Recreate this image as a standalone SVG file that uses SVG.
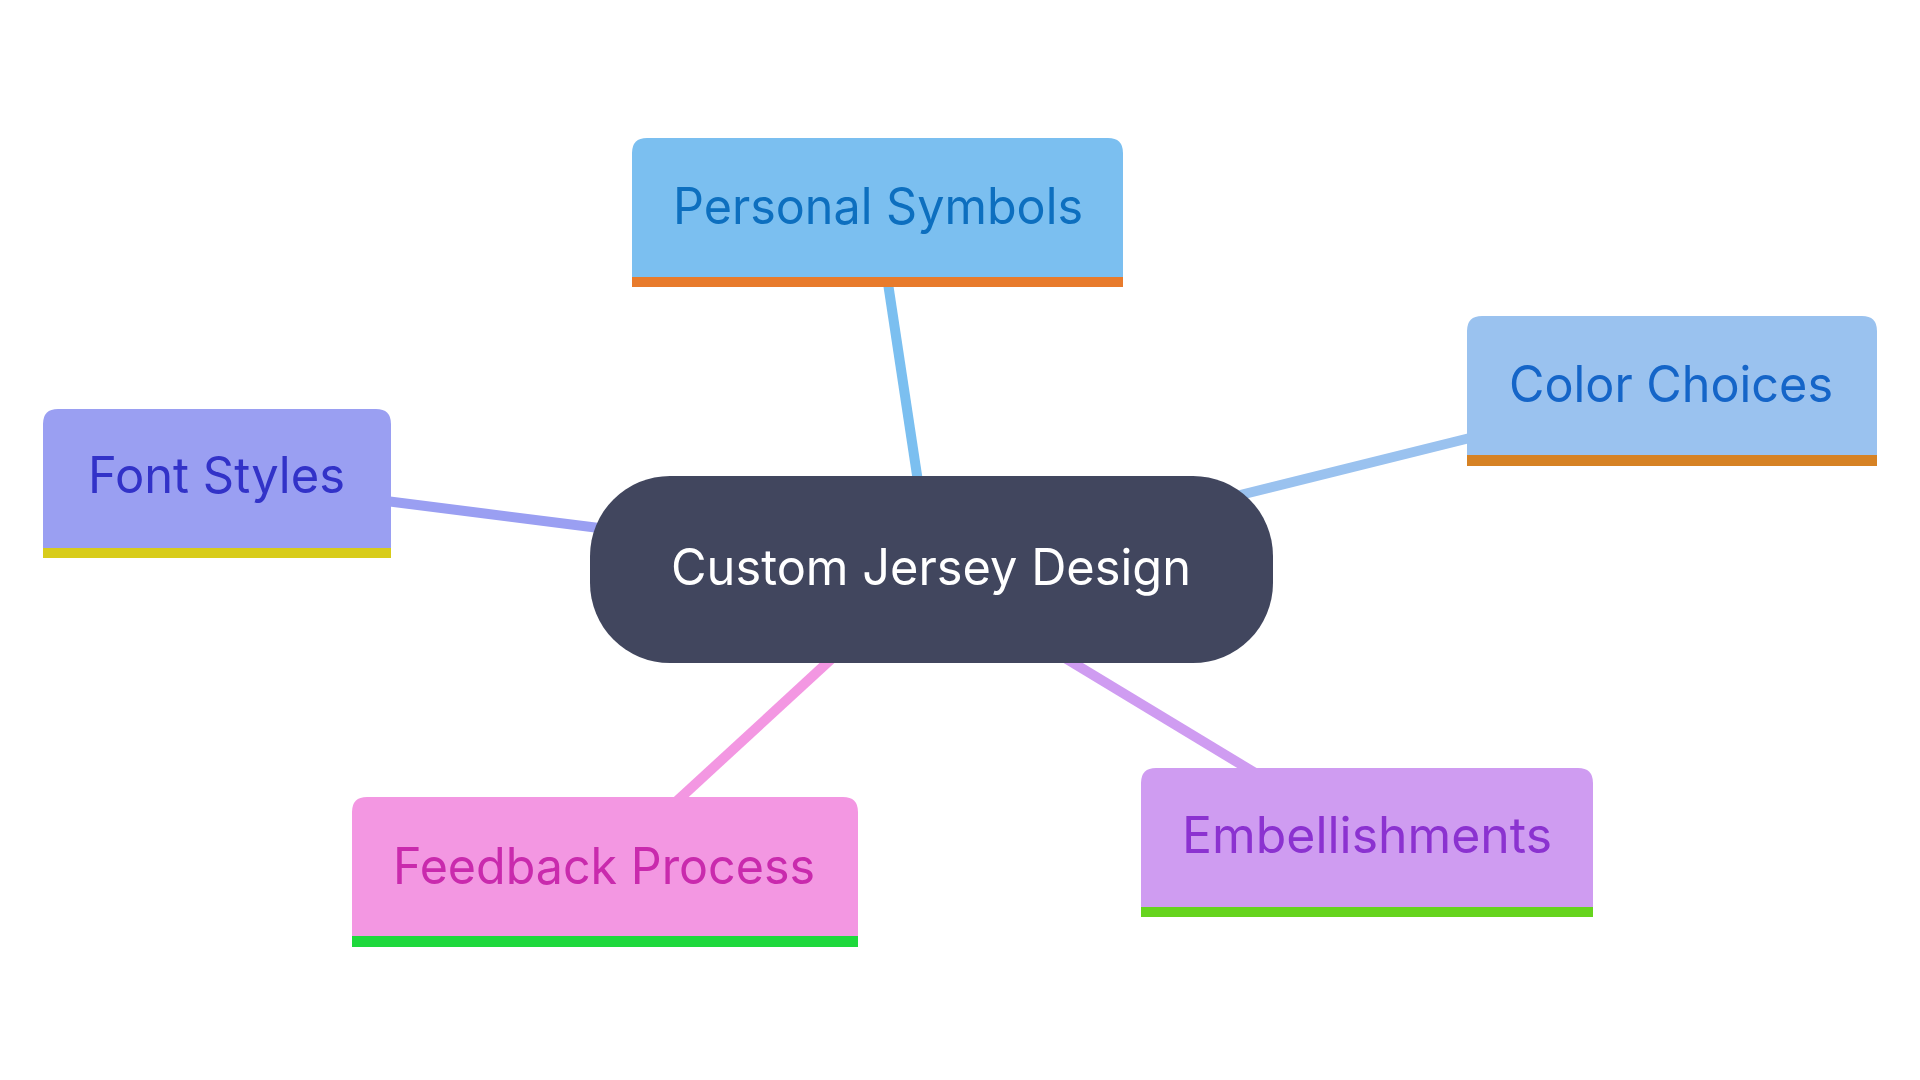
<svg xmlns="http://www.w3.org/2000/svg" width="1920" height="1080" viewBox="0 0 1920 1080">
<style>
.lbl{font-family:Inter,"Noto Sans","Liberation Sans",sans-serif;font-size:50px;}
.edge{stroke-width:10;fill:none;stroke-linecap:butt;}
</style>
<rect width="1920" height="1080" fill="#ffffff"/>
<g id="connectors">
<line class="edge" stroke="#7bbff0" x1="886" y1="270" x2="920" y2="495"/>
<line class="edge" stroke="#9ac2ef" x1="1490" y1="433" x2="1220" y2="500"/>
<line class="edge" stroke="#9a9ff2" x1="370" y1="499" x2="615" y2="530"/>
<line class="edge" stroke="#f397e2" x1="840" y1="651" x2="665" y2="812"/>
<line class="edge" stroke="#cf9cf1" x1="1060" y1="655" x2="1275" y2="785"/>
</g>
<g id="node-center">
<rect x="590" y="476" width="683" height="187" rx="80" fill="#41465e"/>
<text class="lbl" x="931" y="585" text-anchor="middle" fill="#ffffff" textLength="520" lengthAdjust="spacingAndGlyphs">Custom Jersey Design</text>
</g>
<g id="node-personal-symbols">
<path d="M647 138 H1108 Q1123 138 1123 153 V287 H632 V153 Q632 138 647 138 Z" fill="#7bbff0"/>
<rect x="632" y="277" width="491" height="10" fill="#e87b2c"/>
<text class="lbl" x="878" y="224" text-anchor="middle" fill="#0d6fbf" textLength="410" lengthAdjust="spacingAndGlyphs">Personal Symbols</text>
</g>
<g id="node-color-choices">
<path d="M1482 316 H1862 Q1877 316 1877 331 V466 H1467 V331 Q1467 316 1482 316 Z" fill="#9ac2ef"/>
<rect x="1467" y="455" width="410" height="11" fill="#d68224"/>
<text class="lbl" x="1671" y="402" text-anchor="middle" fill="#1565c8" textLength="324" lengthAdjust="spacingAndGlyphs">Color Choices</text>
</g>
<g id="node-font-styles">
<path d="M58 409 H376 Q391 409 391 424 V558 H43 V424 Q43 409 58 409 Z" fill="#9a9ff2"/>
<rect x="43" y="548" width="348" height="10" fill="#d8cc1a"/>
<text class="lbl" x="216.5" y="493" text-anchor="middle" fill="#3232c8" textLength="257" lengthAdjust="spacingAndGlyphs">Font Styles</text>
</g>
<g id="node-feedback-process">
<path d="M367 797 H843 Q858 797 858 812 V947 H352 V812 Q352 797 367 797 Z" fill="#f397e2"/>
<rect x="352" y="936" width="506" height="11" fill="#1ed83c"/>
<text class="lbl" x="604" y="884" text-anchor="middle" fill="#c92aad" textLength="422" lengthAdjust="spacingAndGlyphs">Feedback Process</text>
</g>
<g id="node-embellishments">
<path d="M1156 768 H1578 Q1593 768 1593 783 V917 H1141 V783 Q1141 768 1156 768 Z" fill="#cf9cf1"/>
<rect x="1141" y="907" width="452" height="10" fill="#66d41e"/>
<text class="lbl" x="1367" y="853" text-anchor="middle" fill="#8b32d0" textLength="370" lengthAdjust="spacingAndGlyphs">Embellishments</text>
</g>
</svg>
